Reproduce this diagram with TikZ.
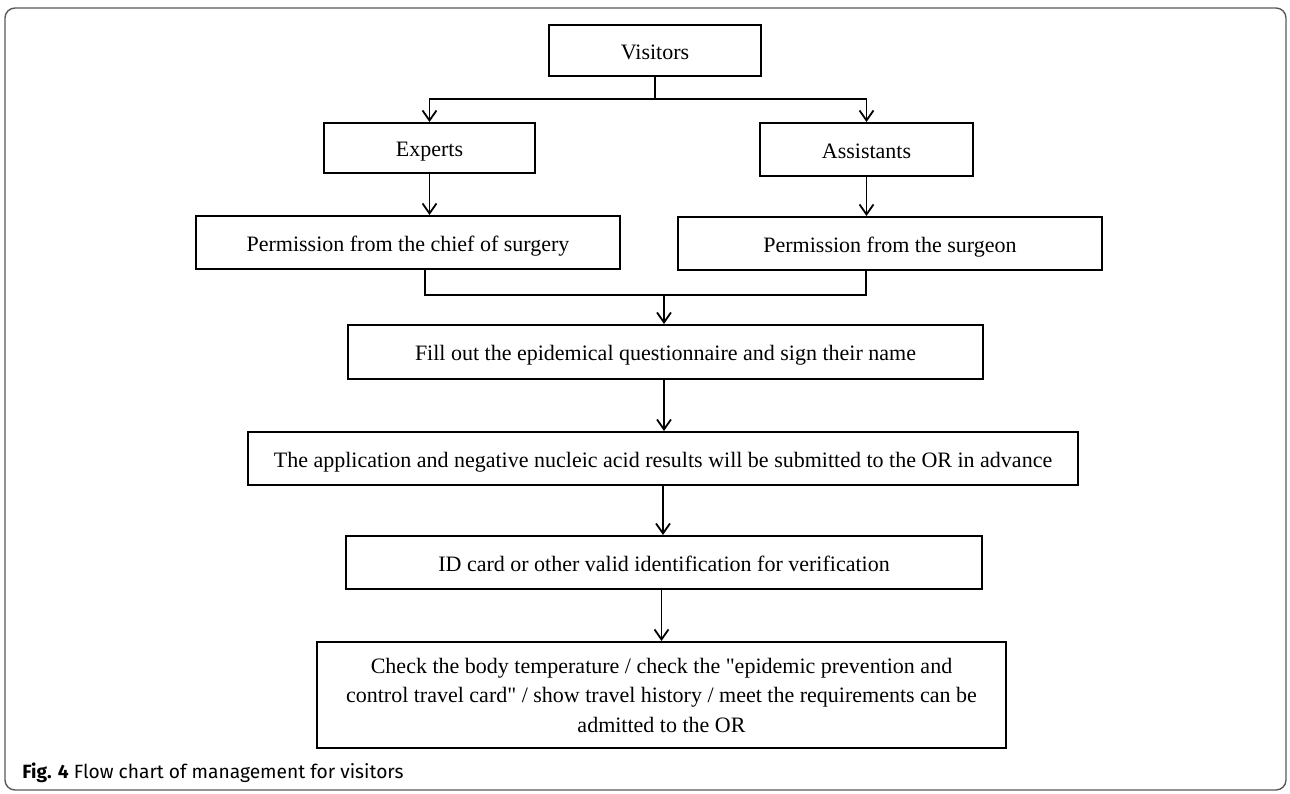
\documentclass[tikz,border=0pt]{standalone}
\usepackage{fontspec}
\setmainfont{Liberation Serif}
\newfontfamily\captionfont{Fira Sans}
\usetikzlibrary{arrows.meta}
\definecolor{framegray}{gray}{0.35}

\begin{document}
\begin{tikzpicture}[x=0.5pt, y=-0.5pt,
    box/.style={draw, line width=1pt, inner sep=0pt, align=center,
      font=\fontsize{11}{14.75}\selectfont},
    oneline/.style={box, text height=11pt, text depth=2.5pt},
    flow/.style={line width=0.9pt},
    arr/.style={flow, -{Straight Barb[length=5pt, width=7pt, line width=0.9pt]}}]
  \useasboundingbox (0,0) rectangle (1290,793);
  \draw[framegray, line width=0.7pt, rounded corners=5pt] (5,8) rectangle (1286,790);

  % boxes
  \node[oneline, minimum width=106pt, minimum height=25.5pt] (visitors) at (655,50.5) {Visitors};
  \node[oneline, minimum width=105.5pt, minimum height=25pt] (experts) at (429.5,148) {Experts};
  \node[oneline, minimum width=106.5pt, minimum height=26.5pt] (assistants) at (866.5,149.5) {Assistants};
  \node[oneline, minimum width=212pt, minimum height=26.5pt] (chief) at (408,242.5) {Permission from the chief of surgery};
  \node[oneline, minimum width=212pt, minimum height=26.5pt] (surgeon) at (890,243.5) {Permission from the surgeon};
  \node[oneline, minimum width=317.5pt, minimum height=27pt] (fill) at (665.5,352) {Fill out the epidemical questionnaire and sign their name};
  \node[oneline, minimum width=415pt, minimum height=26.5pt] (app) at (663,458.5) {The application and negative nucleic acid results will be submitted to the OR in advance};
  \node[oneline, minimum width=318pt, minimum height=26.5pt] (idcard) at (664,562.5) {ID card or other valid identification for verification};
  \node[box, minimum width=344.5pt, minimum height=53pt] (check) at (661.5,695) {Check the body temperature / check the \textquotedbl epidemic prevention and\\
    control travel card\textquotedbl{} / show travel history / meet the requirements can be\\
    admitted to the OR};

  % branching
  \coordinate (split) at (655,99);
  \draw[flow] (visitors.south) -- (split);
  \draw[arr] (split) -| (experts.north);
  \draw[arr] (split) -| (assistants.north);
  \draw[arr] (experts.south) -- (experts.south |- chief.north);
  \draw[arr] (assistants.south) -- (assistants.south |- surgeon.north);

  % joining
  \coordinate (joinl) at (425,295);
  \coordinate (joinr) at (866,295);
  \coordinate (join) at (664,295);
  \draw[flow] (joinl |- chief.south) -- (joinl) -- (joinr) -- (joinr |- surgeon.south);
  \draw[arr] (join) -- (join |- fill.north);

  \draw[arr] (join |- fill.south) -- (join |- app.north);
  \draw[arr] (app.south) -- (app.south |- idcard.north);
  \draw[arr] (check.north |- idcard.south) -- (check.north);

  \node[anchor=west, inner sep=0pt, font=\captionfont\fontsize{9.6}{11}\selectfont] (caption) at (22,773)
    {\textbf{Fig. 4} Flow chart of management for visitors};
\end{tikzpicture}
\end{document}
